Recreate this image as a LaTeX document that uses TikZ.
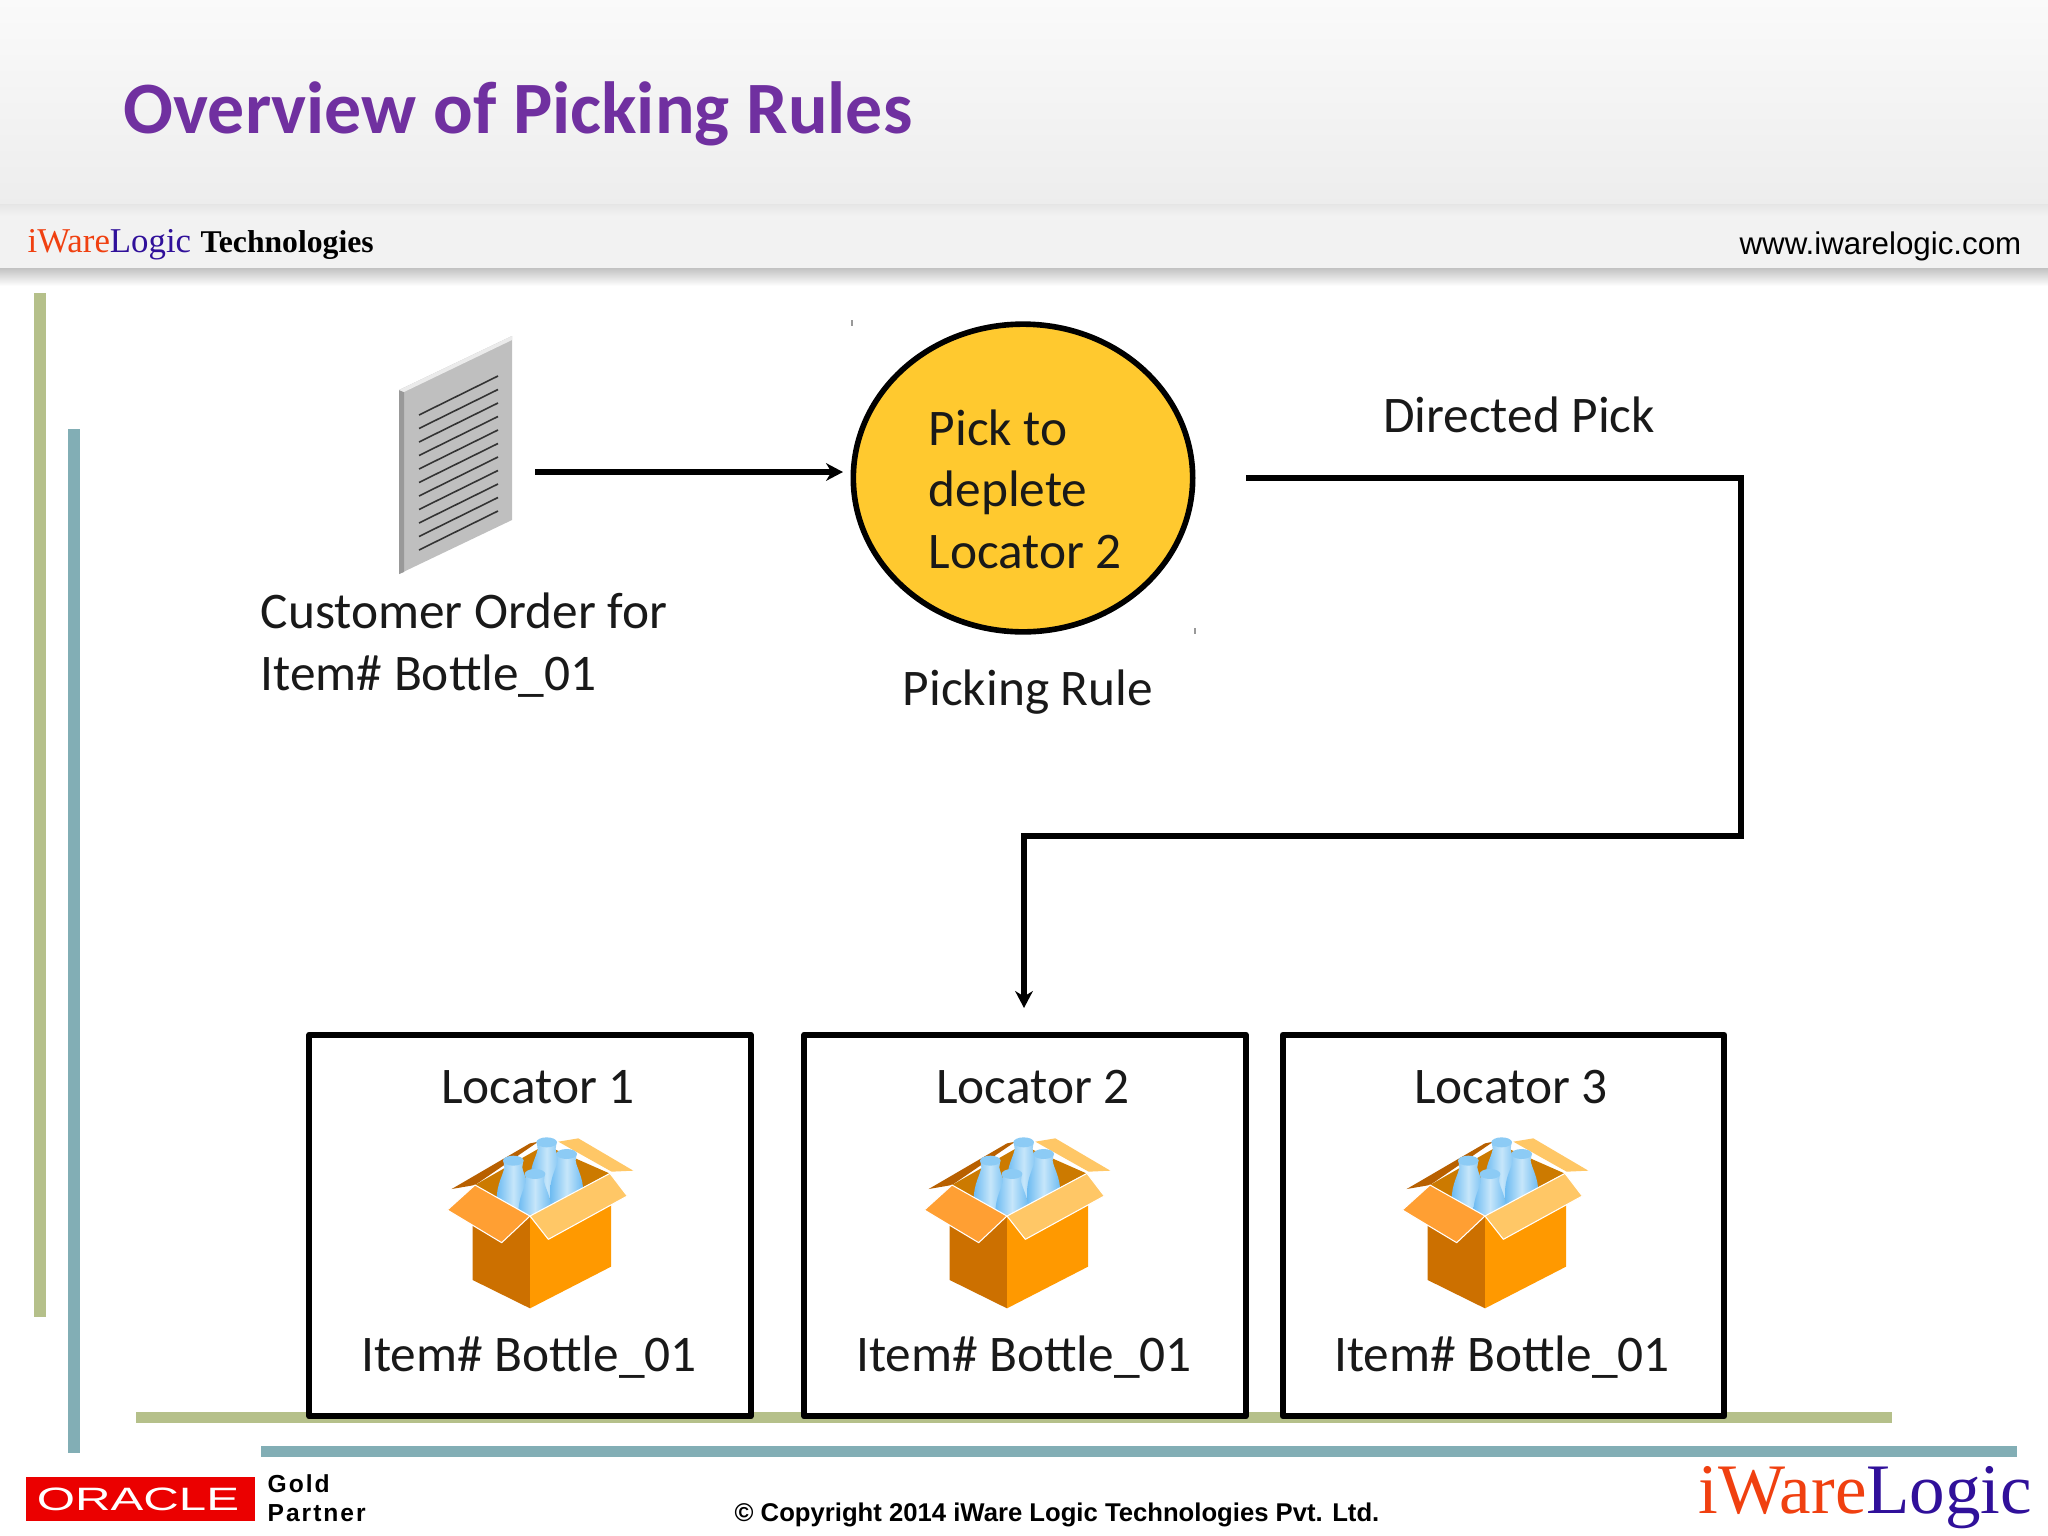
\documentclass[tikz,border=0pt]{standalone}
\usepackage{fontspec}
\setmainfont{Carlito}
\newfontfamily\arialfont{Liberation Sans}
\newfontfamily\timesfont{Liberation Serif}
\usetikzlibrary{shapes.geometric,arrows.meta}
\definecolor{barGreen}{HTML}{B5C08A}
\definecolor{barTeal}{HTML}{82AEB5}
\definecolor{titlePurple}{HTML}{7030A0}
\definecolor{ruleYellow}{HTML}{FFC92F}
\definecolor{logoRed}{HTML}{F04010}
\definecolor{logoBlue}{HTML}{30109A}
\definecolor{crateFront}{HTML}{FF9900}
\definecolor{crateSide}{HTML}{CC7000}
\definecolor{crateInner}{HTML}{CC7A00}
\definecolor{flapDark}{HTML}{B86000}
\definecolor{flapLeft}{HTML}{FF9F33}
\definecolor{flapRight}{HTML}{FFC766}
\definecolor{bottleEdge}{HTML}{6DBBF2}
\definecolor{bottleMid}{HTML}{C6E6FA}
\definecolor{bottleTop}{HTML}{8CCBF5}
\newcommand{\bodysize}{\fontsize{14.6pt}{17.4pt}\selectfont}
\tikzset{
 txt/.style={font=\bodysize,inner sep=0pt,text=black!90},
 flow/.style={line width=1.6pt,line join=miter,-{Stealth[length=4.8pt,width=5pt,inset=1.5pt]}},
 locbox/.style={draw=black,line width=1.7pt,fill=white,minimum width=125.5pt,minimum height=108.5pt,inner sep=0pt},
 crate/.pic={
  \begin{scope}[scale=1/3]
  \fill[crateInner](165,225)--(375,105)--(568,190)--(330,318)--cycle;
  \fill[flapDark](95,237)--(330,100)--(355,95)--(165,225)--cycle;
  \fill[flapRight](415,95)--(475,85)--(640,182)--(575,185)--cycle;
  \foreach \bx/\by in{380/95,440/130,280/150,345/190}{
  \begin{scope}[shift={(\bx,\by)}]
  \shade[left color=bottleEdge,right color=bottleEdge,middle color=bottleMid]
   (-30,0)--(-27,22)..controls(-30,45)and(-50,70)..(-50,120)--(-50,170)--(50,170)--(50,120)..controls(50,70)and(30,45)..(27,22)--(30,0)--cycle;
  \fill[bottleTop](0,2)ellipse[x radius=31,y radius=15];
  \end{scope}
  }
  \fill[crateSide](158,310)--(330,315)--(330,595)--(158,510)--cycle;
  \fill[crateFront](330,315)--(573,285)--(573,470)--(330,595)--cycle;
  \fill[flapLeft,draw=white,line width=.3pt](165,225)--(330,318)--(245,398)--(82,300)--cycle;
  \fill[flapRight,draw=white,line width=.3pt](330,318)--(570,190)--(622,258)--(385,388)--cycle;
  \end{scope}
 }
}
\begin{document}
\begin{tikzpicture}[x=0.01cm,y=-0.01cm,line join=round]
\useasboundingbox(0,0)rectangle(2048,1536);
\shade[top color=black!2,bottom color=black!7](0,0)rectangle(2048,204);
\shade[top color=black!10,bottom color=black!5](0,204)rectangle(2048,216);
\fill[black!5](0,216)rectangle(2048,268);
\shade[top color=black!24,bottom color=white](0,268)rectangle(2048,286);
\node[anchor=base west,inner sep=0pt,text=titlePurple,font=\fontsize{21pt}{24pt}\selectfont\bfseries](title)at(123,133){Overview of Picking Rules};
\node[anchor=base west,inner sep=0pt,font=\timesfont\fontsize{9.9pt}{10pt}\selectfont](smalllogo)at(27,252){\textcolor{logoRed}{iWare}\textcolor{logoBlue}{Logic}};
\node[anchor=base west,inner sep=0pt,font=\timesfont\bfseries\fontsize{9pt}{10pt}\selectfont](techname)at(200,252){Technologies};
\node[anchor=base east,inner sep=0pt,font=\arialfont\fontsize{8.9pt}{10pt}\selectfont](website)at(2022,254){www.iwarelogic.com};
\fill[barGreen](34,293)rectangle(46,1317);
\fill[barTeal](68,429)rectangle(80,1453);
\fill[barGreen](136,1412)rectangle(1892,1423);
\fill[barTeal](261,1446)rectangle(2017,1457);
\fill[black!25](399,390)--(512,336)--(512,520)--(399,574)--cycle;
\fill[black!40](399,390)--(404,392)--(404,572)--(399,574)--cycle;
\fill[black!8](399,390)--(512,336)--(512,340)--(404,392)--cycle;
\foreach \k in{0,...,10}
\draw[black!80,line width=.45pt](419,415+13.5*\k)--(498,376+13.5*\k);
\node[txt,align=left,anchor=base west](ordertxt)at(260,690){Customer Order for\\Item\# Bottle\_01};
\node[ellipse,draw=black,line width=1.6pt,fill=ruleYellow,minimum width=96.5pt,minimum height=87.5pt,inner sep=0pt](rule)at(1023,478){};
\node[txt,align=left,anchor=base west](ruletxt)at(928,568){Pick to\\deplete\\Locator 2};
\node[txt,anchor=base](rulelabel)at(1028,705){Picking Rule};
\node[txt,anchor=base](picklabel)at(1519,432){Directed Pick};
\draw[black!40,line width=.3pt](852,320)--(852,326)(1195,628)--(1195,634);
\coordinate(orderout)at(535,472);
\coordinate(rulein)at(843,472);
\coordinate(ruleout)at(1246,478);
\coordinate(pickright)at(1741,478);
\coordinate(pickdown)at(1741,836);
\coordinate(pickleft)at(1024,836);
\coordinate(locin)at(1024,1008);
\draw[flow](orderout)--(rulein);
\draw[flow](ruleout)--(pickright)--(pickdown)--(pickleft)--(locin);
\foreach \n/\cx/\tx/\ix in{1/530/538/529,2/1025/1033/1024,3/1503.5/1511/1502}{
\node[locbox](loc\n)at(\cx,1225.5){};
\node[txt,anchor=base](loctxt\n)at(\tx,1103){Locator \n};
\node[txt,anchor=base](itemtxt\n)at(\ix,1371){Item\# Bottle\_01};
}
\foreach \cx in{420,897,1375}
\pic at(\cx,1110){crate};
\node[fill=red!92!black,minimum width=65.2pt,minimum height=12.5pt,inner sep=0pt](oraclebox)at(140.5,1499){};
\node[text=white,inner sep=0pt,font=\arialfont\fontsize{9.2pt}{9pt}\selectfont](oracletxt)at(138,1499){\scalebox{1.52}[1]{ORACLE}};
\node[anchor=base west,inner sep=0pt,align=left,font=\arialfont\bfseries\fontsize{7pt}{8pt}\selectfont](goldtxt)at(267,1521){\addfontfeature{LetterSpace=8}Gold\\\addfontfeature{LetterSpace=8}Partner};
\node[inner sep=0pt,font=\arialfont\bfseries\fontsize{7.3pt}{9pt}\selectfont](copytxt)at(1057,1515){© Copyright 2014 iWare Logic Technologies Pvt. Ltd.};
\node[anchor=base west,inner sep=0pt,font=\timesfont\fontsize{20.2pt}{24pt}\selectfont](biglogo)at(1698,1513){\textcolor{logoRed}{iWare}\textcolor{logoBlue}{Logic}};
\end{tikzpicture}
\end{document}
